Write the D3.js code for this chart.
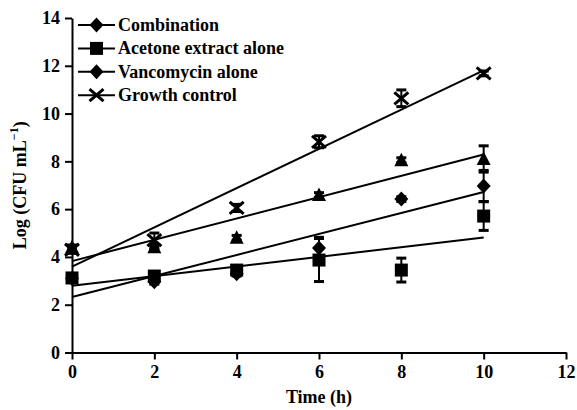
<!DOCTYPE html>
<html>
<head>
<meta charset="utf-8">
<script src="https://cdn.jsdelivr.net/npm/d3@7"></script>
<style>
  body { margin: 0; background: #fff; }
  text { font-family: "Liberation Serif", "Times New Roman", serif; font-weight: bold; }
</style>
</head>
<body>
<div id="chart"></div>
<script>
// data
const times = [0, 2, 4, 6, 8, 10];
const combination = [3.1, 2.96, 3.3, 4.37, 6.42, 6.97];
const combinationErr = [0.1, 0.1, 0.1, 0.45, 0.1, 0.65];
const acetone = [3.12, 3.2, 3.45, 3.87, 3.45, 5.71];
const acetoneErr = [0.1, 0.1, 0.15, 0.9, 0.5, 0.6];
const vancomycin = [4.4, 4.4, 4.8, 6.59, 8.05, 8.1];
const vancomycinErr = [0.1, 0.1, 0.1, 0.1, 0.1, 0.55];
const growth = [4.3, 4.7, 6.05, 8.82, 10.64, 11.68];
const growthErr = [0.15, 0.3, 0.15, 0.25, 0.35, 0.1];

const seriesNames = ["Combination", "Acetone extract alone", "Vancomycin alone", "Growth control"];
const xTicks = [0, 2, 4, 6, 8, 10, 12];
const yTicks = [0, 2, 4, 6, 8, 10, 12, 14];

const width = 577, height = 410;
const margin = { top: 18, right: 11, bottom: 57.5, left: 72 };

const svg = d3.select("#chart")
  .append("svg")
  .attr("width", width)
  .attr("height", height);

const x = d3.scaleLinear().domain([0, 12]).range([margin.left, width - margin.right]);
const y = d3.scaleLinear().domain([0, 14]).range([height - margin.bottom, margin.top]);

// least squares fit, the lines in the chart are regressions
function fit(xs, ys) {
  const mx = d3.mean(xs), my = d3.mean(ys);
  let sxy = 0, sxx = 0;
  xs.forEach((v, i) => { sxy += (v - mx) * (ys[i] - my); sxx += (v - mx) * (v - mx); });
  const slope = sxy / sxx;
  return { slope: slope, intercept: my - slope * mx };
}

const series = [
  { name: seriesNames[0], values: combination, err: combinationErr, shape: "diamond" },
  { name: seriesNames[1], values: acetone, err: acetoneErr, shape: "square" },
  { name: seriesNames[2], values: vancomycin, err: vancomycinErr, shape: "triangle" },
  { name: seriesNames[3], values: growth, err: growthErr, shape: "cross" }
];

// marker drawing
function drawMarker(g, shape, cx, cy) {
  if (shape === "diamond") {
    g.append("path").attr("d", `M${cx},${cy - 7.5}L${cx + 7},${cy}L${cx},${cy + 7.5}L${cx - 7},${cy}Z`).attr("fill", "#000");
  } else if (shape === "square") {
    g.append("rect").attr("x", cx - 6.5).attr("y", cy - 6.5).attr("width", 13).attr("height", 13).attr("fill", "#000");
  } else if (shape === "triangle") {
    g.append("path").attr("d", `M${cx},${cy - 7.5}L${cx + 7},${cy + 6}L${cx - 7},${cy + 6}Z`).attr("fill", "#000");
  } else {
    g.append("path").attr("d", `M${cx - 7},${cy - 6}L${cx + 7},${cy + 6}M${cx - 7},${cy + 6}L${cx + 7},${cy - 6}`)
      .attr("stroke", "#000").attr("stroke-width", 3).attr("fill", "none");
  }
}

// regression lines
const lines = svg.append("g");
series.forEach(s => {
  const f = fit(times, s.values);
  lines.append("line")
    .attr("x1", x(0)).attr("y1", y(f.intercept))
    .attr("x2", x(10)).attr("y2", y(f.intercept + f.slope * 10))
    .attr("stroke", "#000").attr("stroke-width", 2);
});

// error bars
const bars = svg.append("g").attr("stroke", "#000");
series.forEach(s => {
  s.values.forEach((v, i) => {
    const cx = x(times[i]);
    bars.append("line").attr("x1", cx).attr("x2", cx)
      .attr("y1", y(v - s.err[i])).attr("y2", y(v + s.err[i])).attr("stroke-width", 2);
    [v - s.err[i], v + s.err[i]].forEach(e => {
      bars.append("line").attr("x1", cx - 5).attr("x2", cx + 5)
        .attr("y1", y(e)).attr("y2", y(e)).attr("stroke-width", 3);
    });
  });
});

// markers
const marks = svg.append("g");
series.forEach(s => {
  s.values.forEach((v, i) => drawMarker(marks, s.shape, x(times[i]), y(v)));
});

// axes
const xAxis = svg.append("g")
  .attr("transform", `translate(0,${y(0)})`)
  .call(d3.axisBottom(x).tickValues(xTicks).tickSize(7).tickSizeOuter(0).tickPadding(6));
const yAxis = svg.append("g")
  .attr("transform", `translate(${x(0)},0)`)
  .call(d3.axisLeft(y).tickValues(yTicks).tickSize(7).tickSizeOuter(0).tickPadding(5));

[xAxis, yAxis].forEach(a => {
  a.select(".domain").attr("stroke-width", 2);
  a.selectAll(".tick line").attr("stroke-width", 2);
  a.selectAll(".tick text").attr("font-size", 18).attr("fill", "#000")
    .style("font-family", '"Liberation Serif", serif').style("font-weight", "bold");
});

// axis titles
svg.append("text")
  .attr("x", (x(0) + x(12)) / 2)
  .attr("y", 403)
  .attr("text-anchor", "middle")
  .attr("font-size", 18)
  .text("Time (h)");

const yTitle = svg.append("text")
  .attr("transform", `translate(26,${(y(0) + y(14)) / 2}) rotate(-90)`)
  .attr("text-anchor", "middle")
  .attr("font-size", 18);
yTitle.append("tspan").text("Log (CFU mL");
yTitle.append("tspan").attr("font-size", 12).attr("dy", -8).text("\u22121");
yTitle.append("tspan").attr("dy", 8).text(")");

// legend (vancomycin is shown with a diamond in the original key)
const legendShapes = ["diamond", "square", "diamond", "cross"];
const legend = svg.append("g");
seriesNames.forEach((name, i) => {
  const ly = 25 + i * 23.4;
  legend.append("line").attr("x1", 78).attr("x2", 115).attr("y1", ly).attr("y2", ly)
    .attr("stroke", "#000").attr("stroke-width", 2);
  drawMarker(legend, legendShapes[i], 96.5, ly);
  legend.append("text").attr("x", 118).attr("y", ly + 6).attr("font-size", 18).text(name);
});
</script>
</body>
</html>
